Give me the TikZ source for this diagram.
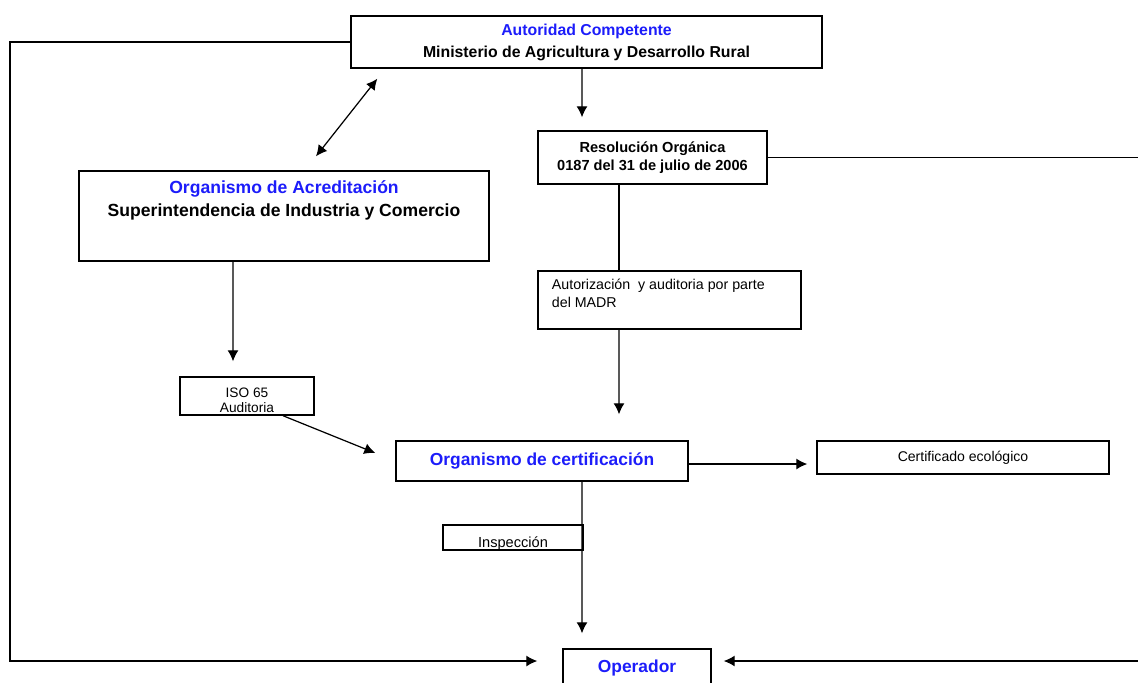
\documentclass[tikz,border=0pt]{standalone}
\usepackage{fontspec}
\setmainfont{Liberation Sans}
\usetikzlibrary{positioning, arrows.meta}
\definecolor{azul}{RGB}{28,28,250}

\begin{document}
\begin{tikzpicture}[>={Latex[length=2.2mm,width=2.2mm]}, line width=0.7pt,
    caja/.style={draw, line width=0.8pt, inner sep=0pt, align=center},
    titulo/.style={text=azul}]
    \useasboundingbox (0,0) rectangle (22.76,-13.64);

    \node[caja, minimum width=9.42cm, minimum height=1.04cm,
        font=\bfseries\fontsize{9}{12.5}\selectfont] (autoridad) at (11.73,-0.84)
        {\textcolor{azul}{Autoridad Competente}\\Ministerio de Agricultura y Desarrollo Rural};
    \node[caja, minimum width=4.58cm, minimum height=1.06cm,
        font=\bfseries\fontsize{8.3}{10.2}\selectfont] (resol) at (13.05,-3.15)
        {Resolución Orgánica\\0187 del 31 de julio de 2006};
    \node[caja, minimum width=8.2cm, minimum height=1.8cm] (acred) at (5.68,-4.32) {};
    \node[align=center, font=\bfseries\fontsize{10}{13}\selectfont]
        (acredtxt) at ([yshift=0.31cm]acred.center)
        {\textcolor{azul}{Organismo de Acreditación}\\Superintendencia de Industria y Comercio};
    \node[caja, minimum width=5.26cm, minimum height=1.16cm] (autoriz) at (13.39,-6.0) {};
    \node[anchor=west, inner sep=0pt, align=left, font=\fontsize{8.1}{10.2}\selectfont]
        (autoriztxt) at ([xshift=0.28cm, yshift=0.14cm]autoriz.west)
        {Autorización\ \ y auditoria por parte\\del MADR};
    \node[caja, minimum width=2.68cm, minimum height=0.76cm] (iso) at (4.94,-7.92) {};
    \node[align=center, inner sep=0pt, font=\fontsize{7.8}{8.5}\selectfont]
        (isotxt) at ([yshift=-0.09cm]iso.center) {ISO 65\\Auditoria};
    \node[caja, minimum width=5.84cm, minimum height=0.8cm, titulo,
        font=\bfseries\fontsize{9.9}{12}\selectfont] (orgcert) at (10.84,-9.22)
        {Organismo de certificación};
    \node[caja, minimum width=5.84cm, minimum height=0.66cm,
        font=\fontsize{8}{9}\selectfont] (certif) at (19.26,-9.15)
        {Certificado ecológico};
    \node[caja, minimum width=2.8cm, minimum height=0.5cm] (insp) at (10.26,-10.75) {};
    \node[inner sep=0pt, font=\fontsize{8.3}{9}\selectfont]
        (insptxt) at ([yshift=-0.13cm]insp.center) {Inspección};
    \node[caja, minimum width=2.96cm, minimum height=0.76cm, titulo,
        font=\bfseries\fontsize{9.9}{12}\selectfont] (operador) at (12.74,-13.36)
        {Operador};

    \coordinate (izq) at (0.2,0);
    \coordinate (der) at (22.76,0);
    \coordinate (opizq) at ([xshift=-0.5cm, yshift=0.14cm]operador.west);
    \coordinate (opder) at ([xshift=0.24cm, yshift=0.14cm]operador.east);

    \draw[->] (autoridad.west) -- (autoridad.west -| izq) |- (opizq);
    \draw (resol.east) -- (resol.east -| der);
    \draw[->] (opder -| der) -- (opder);
    \draw[->] ([xshift=-0.09cm]autoridad.south) -- ([xshift=-1.41cm, yshift=0.26cm]resol.north);
    \draw[<->] ([xshift=0.54cm, yshift=-0.2cm]autoridad.south west)
        -- ([xshift=0.64cm, yshift=0.28cm]acred.north);
    \draw[->] ([xshift=-1.02cm]acred.south) -- ([xshift=-0.28cm, yshift=0.3cm]iso.north);
    \draw ([xshift=-0.67cm]resol.south) -- ([xshift=-1.01cm]autoriz.north);
    \draw[->] ([xshift=-1.01cm]autoriz.south) -- ([xshift=1.54cm, yshift=0.52cm]orgcert.north);
    \draw[->] ([xshift=0.72cm]iso.south) -- ([xshift=-0.4cm, yshift=0.16cm]orgcert.west);
    \draw[->] ([yshift=-0.06cm]orgcert.east) -- ([xshift=-0.18cm, yshift=-0.13cm]certif.west);
    \draw[->] ([xshift=0.8cm]orgcert.south) -- ([xshift=-1.1cm, yshift=0.3cm]operador.north);
\end{tikzpicture}
\end{document}
